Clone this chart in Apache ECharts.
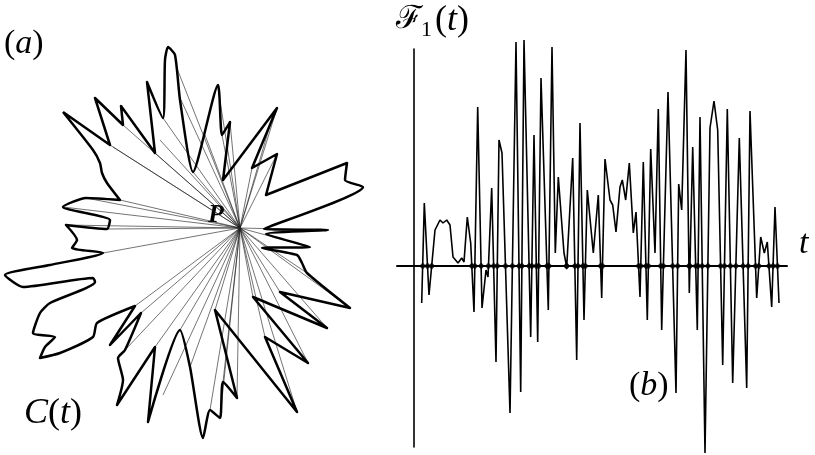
<!DOCTYPE html>
<html>
<head>
<meta charset="utf-8">
<script src="https://cdn.jsdelivr.net/npm/echarts@6/dist/echarts.min.js"></script>
<style>html,body{margin:0;padding:0;background:#fff}#c{width:815px;height:455px}</style>
</head>
<body>
<div id="c"></div>
<script>
// ---- Panel (a): closed curve C(t), coordinates relative to the point P ----
var curveX = [-177,-130,-145,-117,-119,-85,-93,-77,-75,-72,-65,-60,-47,-22,-18,-10,-17,37,12,37,26,107,105,123,24,88,26,70,22,57,62,67,110,40,87,13,68,25,57,-25,-3,-17,-20,-30,-37,-50,-60,-92,-85,-123,-117,-122,-115,-99,-130,-105,-143,-147,-180,-200,-195,-185,-207,-200,-190,-145,-147,-217,-235,-190,-137,-168,-163,-174,-133,-130,-177,-154,-120,-133,-138,-140,-147,-177];
var curveY = [116,83,130,103,122,75,146,110,168,181,173,128,56,143,93,106,48,120,60,74,33,65,48,41,-1,-2,-6,-19,-20,-27,-35,-45,-80,-64,-100,-69,-135,-109,-184,-82,-170,-154,-190,-182,-210,-139,-102,-194,-119,-177,-152,-130,-122,-85,-117,-78,-95,-109,-125,-130,-119,-109,-105,-85,-75,-54,-50,-59,-47,-37,-25,-20,-12,3,-1,8,21,30,28,45,55,65,78,116];
// rays from P to points of the curve
var rayX = [-130,-127,-117,-85,-80,-77,-64,-59,-47,-35,-22,-18,-10,37,32,12,37,-120,-154,-177,-174,-133,-137,-105,-99,-115,-85,-77,-60,-50,-30,-20,-17,-3,-25,57,25,68,13,87,40,110,67,70,88];
var rayY = [83,81,103,75,88,110,162,128,56,93,140,93,106,120,110,60,74,28,30,21,3,-1,-25,-78,-85,-122,-119,-167,-102,-139,-182,-190,-154,-170,-82,-184,-109,-135,-69,-100,-64,-80,-45,-19,-2];

// ---- Panel (b): signal F1(t) ----
var sigT = [7.7,10.3,15,21,26,29,32.7,36,39,44,47.7,50,53.3,56.7,60,63.7,68,72,74,77.7,82,85,88,96,102,106.7,110,116.7,120,123.7,127,134.3,138,141.3,144.3,150,152.7,158.7,162.7,166,170,173.3,179.3,184.3,187.7,191,196,198.7,202,206,208.3,211.7,215.3,219.3,222,226,229.3,233.3,236.7,241,244.3,247.7,254,262,264.7,267.7,272,275.3,278.7,283.3,286,291,296,300,303.7,308.7,313.3,318.7,325.3,332.7,336,342.7,346.7,350.3,353.3,357.7,361,365];
var sigF = [-37,63,-29,36,46,43,46,41,9,3,8,4,49,23,-46,159,-42,-4,-11,78,-96,126,113,-147,224,-126,226,-71,131,-76,188,-44,219,13,89,13,-1,108,-94,143,-54,76,13,71,-32,107,66,61,34,79,86,66,103,33,54,-31,104,-54,117,13,157,-64,174,-127,82,56,216,-27,119,-64,149,-187,138,165,136,-99,157,-117,128,-122,155,-32,29,13,24,-41,59,-37];

function zip(a, b) { return a.map(function (v, i) { return [v, b[i]]; }); }
var curve = zip(curveX, curveY);
var rays = rayX.map(function (x, i) { return { coords: [[0, 0], [x, rayY[i]]] }; });
var signal = zip(sigT, sigF);
var crossings = [];
for (var i = 1; i < sigT.length; i++) {
  var a = sigF[i - 1], b = sigF[i];
  if ((a < 0 && b >= 0) || (a >= 0 && b < 0)) {
    var t = sigT[i - 1] + (sigT[i] - sigT[i - 1]) * (a / (a - b));
    crossings.push([t, 0]);
  }
}

var serif = '"Liberation Serif", "DejaVu Serif", serif';
function mathLabel(text, size) {
  return {
    text: text,
    rich: {
      p: { font: size + 'px ' + serif, fill: '#000' },
      i: { font: 'italic ' + size + 'px ' + serif, fill: '#000' }
    }
  };
}
var chart = echarts.init(document.getElementById('c'), null, { renderer: 'canvas' });
chart.setOption({
  animation: false,
  backgroundColor: '#fff',
  grid: [
    { left: 0, top: 0, width: 400, height: 455 },
    { left: 397, top: 49, width: 390, height: 398 }
  ],
  xAxis: [
    { type: 'value', gridIndex: 0, min: -240, max: 160, show: false },
    { type: 'value', gridIndex: 1, min: -17, max: 373,
      axisLine: { show: true, onZero: true, lineStyle: { color: '#000', width: 2 } },
      axisTick: { show: false }, axisLabel: { show: false }, splitLine: { show: false } }
  ],
  yAxis: [
    { type: 'value', gridIndex: 0, min: -227, max: 228, show: false },
    { type: 'value', gridIndex: 1, min: -181, max: 217,
      axisLine: { show: true, onZero: true, lineStyle: { color: '#000', width: 1.6 } },
      axisTick: { show: false }, axisLabel: { show: false }, splitLine: { show: false } }
  ],
  series: [
    { type: 'lines', coordinateSystem: 'cartesian2d', xAxisIndex: 0, yAxisIndex: 0,
      data: rays, z: 1, silent: true,
      lineStyle: { color: '#222', width: 0.7, opacity: 0.9 } },
    { type: 'line', xAxisIndex: 0, yAxisIndex: 0, data: curve, smooth: 0.2,
      showSymbol: false, z: 2, clip: false,
      lineStyle: { color: '#000', width: 2.5, join: 'round' } },
    { type: 'line', xAxisIndex: 1, yAxisIndex: 1, data: signal, showSymbol: false,
      clip: false, z: 3, lineStyle: { color: '#000', width: 1.6 } },
    { type: 'scatter', xAxisIndex: 1, yAxisIndex: 1, data: crossings, symbol: 'diamond',
      symbolSize: 7, z: 4, itemStyle: { color: '#000' } }
  ],
  graphic: [
    { type: 'text', left: 4, top: 27, style: mathLabel('{p|(}{i|a}{p|)}', 34) },
    { type: 'text', left: 24, top: 396, style: mathLabel('{i|C}{p|(}{i|t}{p|)}', 36) },
    { type: 'text', left: 208, top: 202, style: { text: 'P', font: 'italic bold 26px ' + serif, fill: '#000' } },
    { type: 'text', left: 629, top: 369, style: mathLabel('{p|(}{i|b}{p|)}', 34) },
    { type: 'text', left: 799, top: 227, style: { text: 't', font: 'italic 34px ' + serif, fill: '#000' } },
    { type: 'text', left: 396, top: 4, style: { text: 'ℱ', font: '32px "DejaVu Serif", serif', fill: '#000' } },
    { type: 'text', left: 421, top: 19, style: { text: '1', font: '22px ' + serif, fill: '#000' } },
    { type: 'text', left: 435, top: 3, style: mathLabel('{p|(}{i|t}{p|)}', 36) }
  ]
});
</script>
</body>
</html>
